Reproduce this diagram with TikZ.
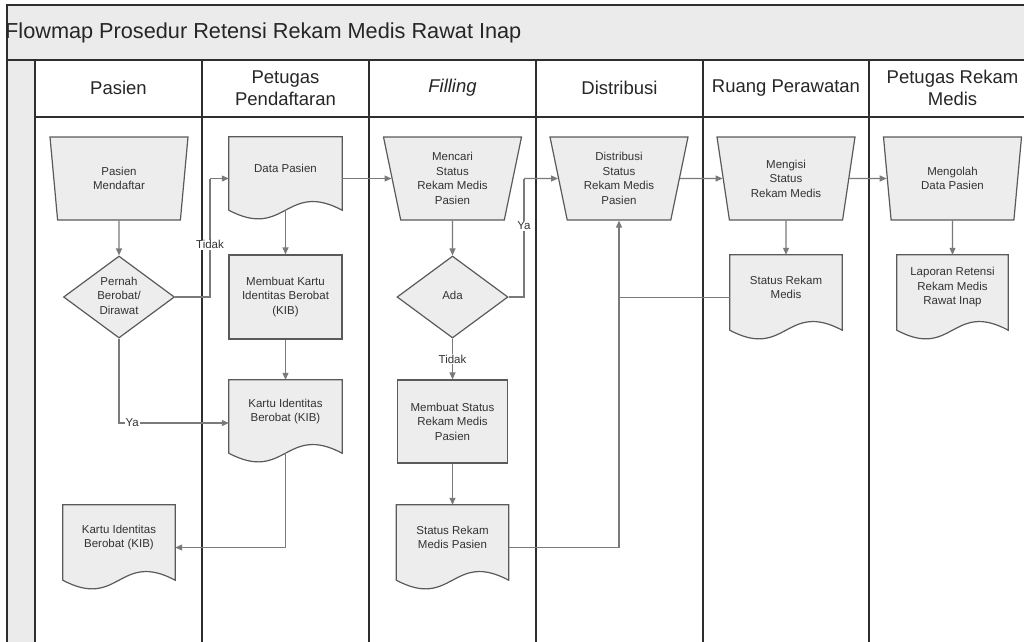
\documentclass[tikz,border=0pt]{standalone}
\usepackage{fontspec}
\setmainfont{Liberation Sans}
\usetikzlibrary{shapes.geometric,arrows.meta,backgrounds}

\definecolor{shapefill}{HTML}{EDEDED}
\definecolor{shapeline}{HTML}{5A5A5A}
\definecolor{connline}{HTML}{7A7A7A}
\definecolor{laneline}{HTML}{2E2E2E}
\definecolor{bandfill}{HTML}{EBEBEB}
\definecolor{textcol}{HTML}{333333}

\tikzset{
  nodefont/.style={font=\fontsize{11.5}{14.5}\selectfont},
  base/.style={fill=shapefill, draw=shapeline, line width=1.2pt, text=textcol,
    inner sep=0pt, nodefont},
  manual/.style={base, align=center, trapezium, trapezium angle=108.34,
    trapezium stretches body, minimum width=138pt, minimum height=83pt},
  decision/.style={base, diamond, minimum width=111pt, minimum height=82pt},
  process/.style={base, align=center, rectangle},
  docbox/.style={rectangle, draw=none, fill=none, text=textcol, align=center,
    inner sep=0pt, nodefont},
  conn/.style={draw=connline, line width=1.1pt, -{Triangle[width=6pt,length=7pt]}},
  link/.style={draw=connline, line width=1.1pt},
  lab/.style={fill=white, inner sep=1pt, text=textcol, font=\fontsize{11.5}{13}\selectfont},
  lanehead/.style={text=black!85, align=center, font=\fontsize{18.5}{22}\selectfont},
  lane/.style={draw=laneline, line width=1.4pt},
}

% document symbol: straight top and sides, wavy bottom edge 10pt below the box
\newcommand{\docoutline}[1]{%
  \begin{scope}[on background layer]
  \filldraw[fill=shapefill, draw=shapeline, line width=1.2pt]
    (#1.north west) -- (#1.north east) -- ([yshift=-10pt]#1.south east)
    .. controls ([yshift=20pt]#1.south) and ([yshift=-40pt]#1.south) ..
    ([yshift=-10pt]#1.south west) -- cycle;
  \end{scope}}

% multi-line text for diamonds, kept from enlarging the shape
\newcommand{\dtext}[1]{\smash{\raisebox{-3pt}{\begin{tabular}{@{}c@{}}#1\end{tabular}}}}

\begin{document}
\begin{tikzpicture}[x=1pt,y=-1pt]
\useasboundingbox (0,0) rectangle (1024,641);

% frame: title band, left strip, header row, swimlanes
\fill[bandfill] (7,5) rectangle (1040,60);
\fill[bandfill] (7,60) rectangle (35,650);
\draw[lane] (1040,5) -- (7,5) -- (7,650);
\draw[lane] (7,60) -- (1040,60);
\draw[lane, line width=2pt] (35,117) -- (1040,117);
\foreach \x in {35,202,369,536,703,869,1036}
  \draw[lane] (\x,60) -- (\x,650);

\node[anchor=west, inner sep=0pt, text=black!85, font=\fontsize{21.7}{24}\selectfont]
  (title) at (5,32.5) {Flowmap Prosedur Retensi Rekam Medis Rawat Inap};

\node[lanehead] (h1) at (118.5,88) {Pasien};
\node[lanehead] (h2) at (285.5,88) {Petugas\\Pendaftaran};
\node[lanehead] (h3) at (452.5,88) {\textit{Filling}};
\node[lanehead] (h4) at (619.5,88) {Distribusi};
\node[lanehead] (h5) at (786,88) {Ruang Perawatan};
\node[lanehead] (h6) at (952.5,88) {Petugas Rekam\\Medis};

% Pasien
\node[manual] (pm) at (119,178.5) {Pasien\\Mendaftar};
\node[decision] (pb) at (119,297) {\dtext{Pernah\\Berobat/\\Dirawat}};
\node[docbox, minimum width=112pt, minimum height=65pt] (kib2) at (119,537.5)
  {Kartu Identitas\\Berobat (KIB)};
\docoutline{kib2}

% Petugas Pendaftaran
\node[docbox, minimum width=113pt, minimum height=63pt] (dp) at (285.5,168.5) {Data Pasien};
\docoutline{dp}
\node[process, minimum width=113pt, minimum height=84pt] (mk) at (285.5,297)
  {Membuat Kartu\\Identitas Berobat\\(KIB)};
\node[docbox, minimum width=113pt, minimum height=63pt] (kib) at (285.5,411.5)
  {Kartu Identitas\\Berobat (KIB)};
\docoutline{kib}

% Filling
\node[manual] (mc) at (452.5,178.5) {Mencari\\Status\\Rekam Medis\\Pasien};
\node[decision] (ada) at (452.5,297) {\dtext{Ada}};
\node[process, minimum width=110pt, minimum height=83pt] (ms) at (452.5,421.5)
  {Membuat Status\\Rekam Medis\\Pasien};
\node[docbox, minimum width=112pt, minimum height=65pt] (srmp) at (452.5,537.5)
  {Status Rekam\\Medis Pasien};
\docoutline{srmp}

% Distribusi
\node[manual] (ds) at (619,178.5) {Distribusi\\Status\\Rekam Medis\\Pasien};

% Ruang Perawatan
\node[manual] (mg) at (786,178.5) {Mengisi\\Status\\Rekam Medis};
\node[docbox, minimum width=112pt, minimum height=65pt] (srm) at (786,287.5)
  {Status Rekam\\Medis};
\docoutline{srm}

% Petugas Rekam Medis
\node[manual] (mo) at (952.5,178.5) {Mengolah\\Data Pasien};
\node[docbox, minimum width=111pt, minimum height=65pt] (lap) at (952.5,287.5)
  {Laporan Retensi\\Rekam Medis\\Rawat Inap};
\docoutline{lap}

% connectors
\coordinate (tdk) at (210,178.5);
\coordinate (ya2) at (524,178.5);

\draw[conn] (pm.south) -- (pb.north);
\draw[link] (pb.east) -| node[lab, pos=0.72] {Tidak} (tdk);
\draw[conn] (tdk) -- (tdk -| dp.west);
\draw[conn] (pb.south) |- node[lab, pos=0.56] {Ya} ([yshift=-11.5pt]kib.west);
\draw[conn] ([yshift=-10pt]dp.south) -- (mk.north);
\draw[conn] (mk.south) -- (kib.north);
\draw[conn] ([yshift=-10pt]kib.south) |- ([yshift=-10pt]kib2.east);

\draw[conn] (mc.west -| dp.east) -- (mc.west);
\draw[conn] (mc.south) -- (ada.north);
\draw[link] (ada.east) -| node[lab, pos=0.8] {Ya} (ya2);
\draw[conn] (ya2) -- (ds.west);
\draw[conn] (ada.south) -- node[lab] {Tidak} (ms.north);
\draw[conn] (ms.south) -- (srmp.north);
\draw[conn] ([yshift=-10pt]srmp.east) -| (ds.south);

\draw[conn] (ds.east) -- (mg.west);
\draw[conn] (mg.south) -- (srm.north);
\draw[link] ([yshift=-10pt]srm.west) -- ([yshift=-10pt]srm.west -| ds.south);
\draw[conn] (mg.east) -- (mo.west);
\draw[conn] (mo.south) -- (lap.north);
\end{tikzpicture}
\end{document}
